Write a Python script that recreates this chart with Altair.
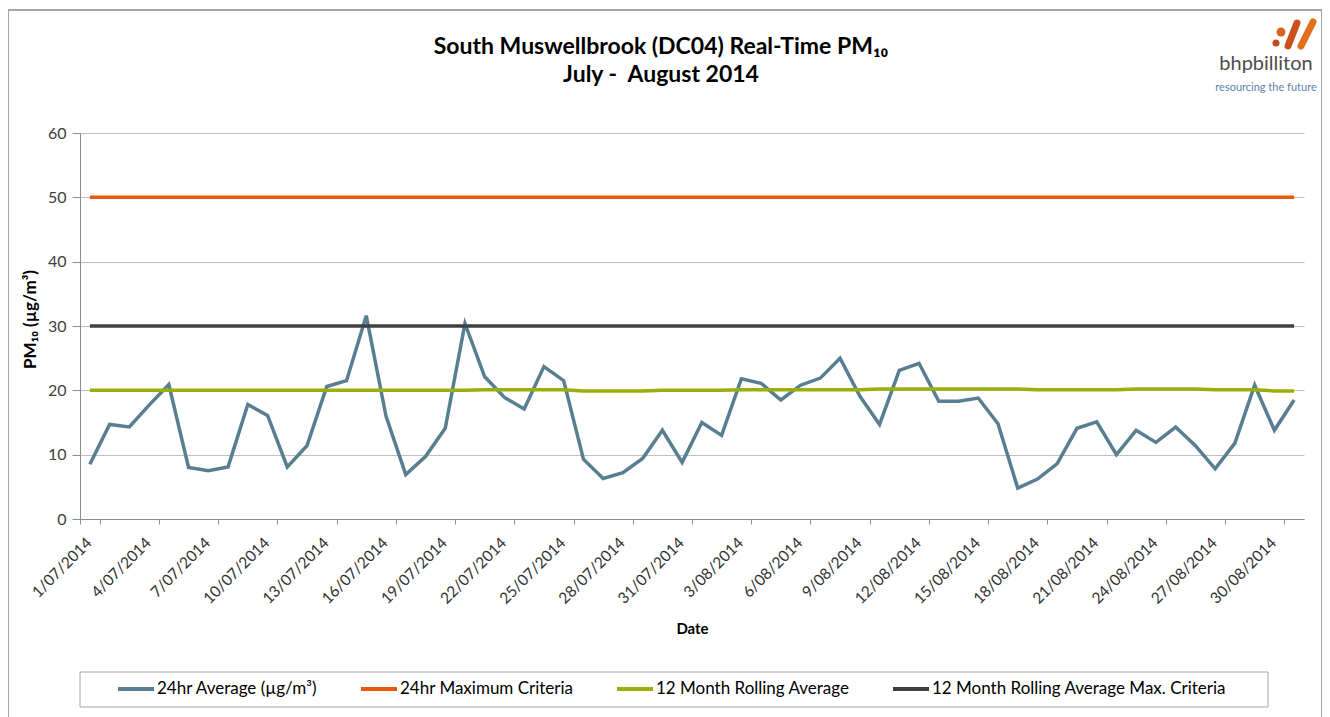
import altair as alt
import pandas as pd

# ---------------- data ----------------
dates = [f"{d}/07/2014" for d in range(1, 32)] + [f"{d}/08/2014" for d in range(1, 32)]

pm10 = [8.5, 14.7, 14.3, 17.7, 20.9, 8.0, 7.5, 8.1, 17.8, 16.1,
        8.1, 11.4, 20.6, 21.5, 31.6, 16.0, 6.9, 9.7, 14.1, 30.4,
        22.1, 18.9, 17.1, 23.7, 21.5, 9.3, 6.3, 7.2, 9.4, 13.8,
        8.8, 15.0, 13.0, 21.8, 21.1, 18.5, 20.8, 21.9, 25.0, 19.1,
        14.7, 23.1, 24.2, 18.3, 18.3, 18.8, 14.8, 4.8, 6.2, 8.6,
        14.1, 15.1, 10.0, 13.8, 11.9, 14.3, 11.4, 7.8, 11.8, 20.8,
        13.8, 18.5]

rolling = [20.0, 20.0, 20.0, 20.0, 20.0, 20.0, 20.0, 20.0, 20.0, 20.0,
           20.0, 20.0, 20.0, 20.0, 20.0, 20.0, 20.0, 20.0, 20.0, 20.0,
           20.1, 20.1, 20.1, 20.1, 20.1, 19.9, 19.9, 19.9, 19.9, 20.0,
           20.0, 20.0, 20.0, 20.1, 20.1, 20.1, 20.1, 20.1, 20.1, 20.1,
           20.2, 20.2, 20.2, 20.2, 20.2, 20.2, 20.2, 20.2, 20.1, 20.1,
           20.1, 20.1, 20.1, 20.2, 20.2, 20.2, 20.2, 20.1, 20.1, 20.1,
           19.9, 19.9]

max24_value = 50
max12_value = 30

series_names = ["24hr Average (µg/m³)", "24hr Maximum Criteria",
                "12 Month Rolling Average", "12 Month Rolling Average Max. Criteria"]
series_colors = ["#587E91", "#E8590C", "#9BAE0A", "#404040"]

y_ticks = [0, 10, 20, 30, 40, 50, 60]

title_line1 = "South Muswellbrook (DC04) Real-Time PM₁₀"
title_line2 = "July -\u00a0 August 2014"

rows = []
for k, name in enumerate(series_names):
    for i, d in enumerate(dates):
        if k == 0:
            v = pm10[i]
        elif k == 1:
            v = max24_value
        elif k == 2:
            v = rolling[i]
        else:
            v = max12_value
        rows.append({"date": d, "series": name, "value": v, "k": k})
df = pd.DataFrame(rows)

FONT = "Lato"
W, H = 1224, 386

x_enc = alt.X(
    "date:N", sort=dates, bandPosition=0.5,
    scale=alt.Scale(type="band", paddingInner=0, paddingOuter=0),
    axis=alt.Axis(
        values=dates[::3], tickBand="extent", labelAngle=-45,
        labelAlign="right", labelBaseline="top", labelFont=FONT,
        labelFontSize=15.5, labelColor="#333333", labelPadding=11,
        labelOffset=-6,
        labelOverlap=False, tickSize=5, tickColor="#8c8c8c",
        domainColor="#8c8c8c", title="Date", titleFont=FONT,
        titleFontSize=15, titleFontWeight="bold", titleColor="#000000",
        titleY=109, titleBaseline="middle",
    ),
)

y_enc = alt.Y(
    "value:Q",
    scale=alt.Scale(domain=[0, 60], nice=False),
    axis=alt.Axis(
        values=y_ticks, grid=True, gridColor="#bfbfbf", gridWidth=1,
        tickSize=8, tickColor="#8c8c8c", domainColor="#8c8c8c",
        labelFont=FONT, labelFontSize=16, labelColor="#404040",
        labelPadding=6, title="PM₁₀ (µg/m³)", titleFont=FONT,
        titleFontSize=17, titleFontWeight="bold", titleColor="#000000",
        titleX=-50, titleY=186, titleBaseline="middle", titleAngle=-90,
    ),
)

lines = alt.Chart(df).mark_line(strokeWidth=3.5).encode(
    x=x_enc,
    y=y_enc,
    color=alt.Color(
        "series:N",
        scale=alt.Scale(domain=series_names, range=series_colors),
        legend=alt.Legend(
            orient="none", legendX=36, legendY=536, direction="horizontal",
            title=None, symbolType="stroke", symbolSize=1296,
            symbolStrokeWidth=4, labelFont=FONT, labelFontSize=17,
            labelColor="#000000", columnPadding=35, labelOffset=1,
            labelLimit=0,
        ),
    ),
    order=alt.Order("k:Q"),
)

one = pd.DataFrame({"a": [0]})

border = alt.Chart(one).mark_rect(fillOpacity=0, stroke="#8c8c8c", strokeWidth=1.5).encode(
    x=alt.value(-72), x2=alt.value(1242), y=alt.value(-123), y2=alt.value(720)
)

legend_box = alt.Chart(one).mark_rect(fillOpacity=0, stroke="#a6a6a6", strokeWidth=1).encode(
    x=alt.value(0), x2=alt.value(1188), y=alt.value(539), y2=alt.value(574)
)

t1 = alt.Chart(one).mark_text(
    text=title_line1, font=FONT, fontSize=23, fontWeight="bold", color="#000000",
    align="center", baseline="alphabetic"
).encode(x=alt.value(581), y=alt.value(-79))

t2 = alt.Chart(one).mark_text(
    text=title_line2, font=FONT, fontSize=23, fontWeight="bold", color="#000000",
    align="center", baseline="alphabetic"
).encode(x=alt.value(581), y=alt.value(-51))

logo_main = alt.Chart(one).mark_text(
    text="bhpbilliton", font=FONT, fontSize=20, color="#4d4d4d", align="center", baseline="alphabetic"
).encode(x=alt.value(1186), y=alt.value(-63))

logo_sub = alt.Chart(one).mark_text(
    text="resourcing the future", font=FONT, fontSize=11, color="#5b84a8", align="center", baseline="alphabetic"
).encode(x=alt.value(1186), y=alt.value(-42))

dot1 = alt.Chart(one).mark_circle(size=50, color="#c24a1e", opacity=1).encode(
    x=alt.value(1196), y=alt.value(-90))
dot2 = alt.Chart(one).mark_circle(size=80, color="#d9621c", opacity=1).encode(
    x=alt.value(1201), y=alt.value(-101))
bar1 = alt.Chart(one).mark_rule(strokeWidth=7, strokeCap="round", color="#c9501d").encode(
    x=alt.value(1208), x2=alt.value(1217), y=alt.value(-87), y2=alt.value(-110))
bar2 = alt.Chart(one).mark_rule(strokeWidth=7, strokeCap="round", color="#e0701e").encode(
    x=alt.value(1221), x2=alt.value(1233), y=alt.value(-87), y2=alt.value(-111))

chart = alt.layer(
    border, legend_box, lines, t1, t2, logo_main, logo_sub, dot1, dot2, bar1, bar2
).properties(
    width=W, height=H,
    padding={"left": 72, "top": 125, "right": 18, "bottom": 200},
    autosize=alt.AutoSizeParams(type="none"),
).configure_view(stroke=None)

chart.save("out.html", embed_options={"renderer": "svg", "actions": False})
